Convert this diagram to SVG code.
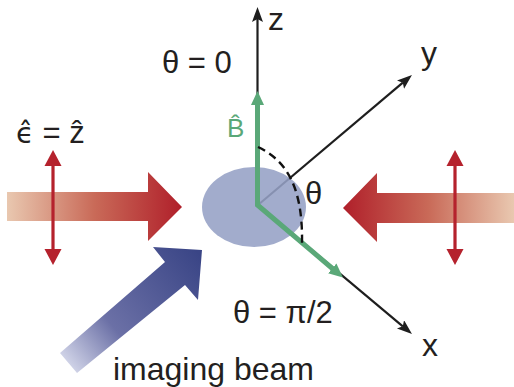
<svg xmlns="http://www.w3.org/2000/svg" width="514" height="387" viewBox="0 0 514 387">
<style>
text{font-family:"Liberation Sans","DejaVu Sans",sans-serif;fill:#231f20}
.ax{stroke:#1e1e1e;stroke-width:2.2;fill:none}
.grn{stroke:#5aa878;stroke-width:5;fill:none;stroke-linejoin:miter}
.dbl{stroke:#b5222d;stroke-width:3.2}
.dbh{fill:#b5222d}
.dj{font-family:"DejaVu Sans",sans-serif}
</style>
<defs>
<marker id="ah" markerUnits="userSpaceOnUse" markerWidth="20" markerHeight="20" refX="3" refY="5.5" orient="auto">
<path d="M0,0 L15,5.5 L0,11 L3,5.5 z" fill="#1e1e1e"/>
</marker>
<marker id="gh" markerUnits="userSpaceOnUse" markerWidth="20" markerHeight="20" refX="1" refY="6.5" orient="auto-start-reverse">
<path d="M0,0 L14,6.5 L0,13 z" fill="#5aa878"/>
</marker>
<linearGradient id="rl" gradientUnits="userSpaceOnUse" x1="7" y1="0" x2="182" y2="0">
<stop offset="0" stop-color="#e9c8b0"/>
<stop offset="0.5" stop-color="#c96a58"/>
<stop offset="1" stop-color="#b01f2a"/>
</linearGradient>
<linearGradient id="rr" gradientUnits="userSpaceOnUse" x1="514" y1="0" x2="343" y2="0">
<stop offset="0" stop-color="#e9c8b0"/>
<stop offset="0.5" stop-color="#c96a58"/>
<stop offset="1" stop-color="#b01f2a"/>
</linearGradient>
<linearGradient id="bl" gradientUnits="userSpaceOnUse" x1="66" y1="365" x2="200" y2="255">
<stop offset="0" stop-color="#d4d7ea"/>
<stop offset="0.35" stop-color="#6b70a6"/>
<stop offset="1" stop-color="#3a4586"/>
</linearGradient>
</defs>

<g id="beam-left">
<polygon points="7,192 148,192 148,172 182,207 148,241 148,221 7,221" fill="url(#rl)"/>
</g>
<g id="beam-right">
<polygon points="514,193 377,193 377,173 343,208 377,242 377,223 514,223" fill="url(#rr)"/>
</g>
<g id="pol-left">
<line class="dbl" x1="53" y1="162" x2="53" y2="253"/>
<polygon class="dbh" points="53,150 44.5,166 61.5,166"/>
<polygon class="dbh" points="53,265 44.5,249 61.5,249"/>
</g>
<g id="pol-right">
<line class="dbl" x1="455" y1="162" x2="455" y2="253"/>
<polygon class="dbh" points="455,150 446.5,166 463.5,166"/>
<polygon class="dbh" points="455,265 446.5,249 463.5,249"/>
</g>
<g id="imaging-beam-arrow">
<polygon points="60,353 165,262 153,247 202,250 198,300 185,285 77,373" fill="url(#bl)"/>
</g>

<g id="connectors">
<line class="ax" x1="257.5" y1="205" x2="257.5" y2="19" marker-end="url(#ah)"/>
<line class="ax" x1="258" y1="205" x2="402.8" y2="82.7" marker-end="url(#ah)"/>
<line class="ax" x1="258" y1="205" x2="402.8" y2="326.3" marker-end="url(#ah)"/>
</g>

<g id="atoms">
<ellipse cx="254" cy="207" rx="52" ry="40" fill="#95a0c5" fill-opacity="0.88"/>
</g>

<g id="field">
<path class="grn" d="M257.5,104 L257.5,205 L333,269" marker-start="url(#gh)" marker-end="url(#gh)"/>
<path d="M258,147 C285,160 303,185 302,243" fill="none" stroke="#111" stroke-width="2.4" stroke-dasharray="8,5"/>
</g>

<g id="labels">
<text x="268" y="30" font-size="32">z</text>
<text x="421" y="64" font-size="32">y</text>
<text x="422" y="356" font-size="32">x</text>
<text x="162" y="73" font-size="31">θ = 0</text>
<text x="233" y="323" font-size="31">θ = π/2</text>
<text x="305" y="204" font-size="31">θ</text>
<text x="227" y="137" font-size="26" style="fill:#5aa878">B̂</text>
<text x="16" y="143" font-size="31"><tspan class="dj" font-size="29">ϵ̂</tspan> = ẑ</text>
<text x="113" y="380" font-size="32">imaging beam</text>
</g>
</svg>
